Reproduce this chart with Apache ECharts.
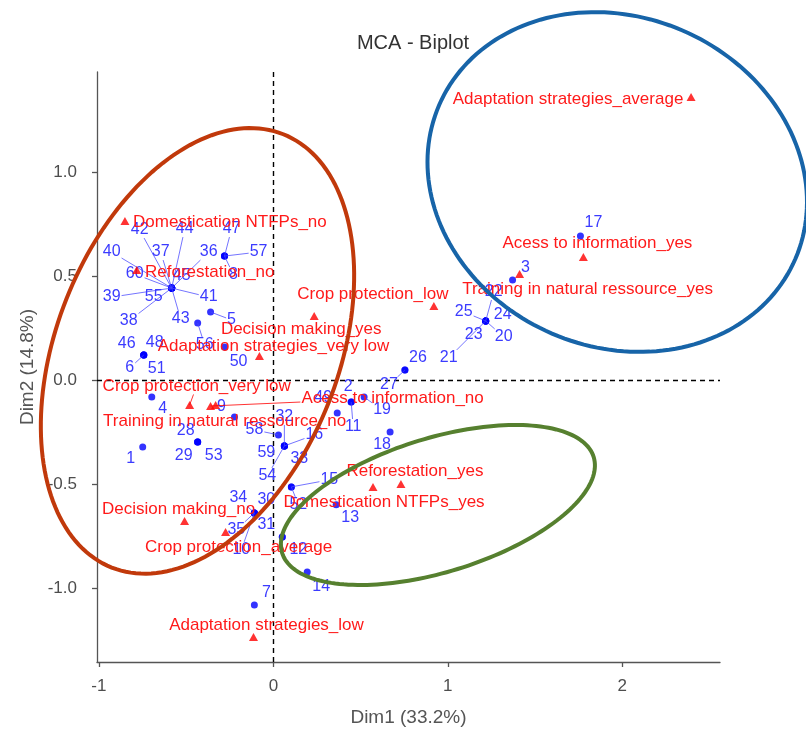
<!DOCTYPE html>
<html><head><meta charset="utf-8">
<script src="https://cdn.jsdelivr.net/npm/echarts@6/dist/echarts.min.js"></script>
<style>html,body{margin:0;padding:0;background:#fff}#c{width:806px;height:735px}</style>
</head><body><div id="c"></div>
<script>
// ---------- DATA ----------
const indNames = Array.from({length: 60}, (_, i) => String(i + 1));
const indX = [-0.749, 0.446, 1.371, -0.697, -0.360, -0.743, -0.109, -0.280, -0.223, -0.109,
  0.446, 0.051, 0.360, 0.194, 0.103, 0.063, 1.760, 0.669, 0.520, 1.217,
  1.217, 1.217, 1.217, 1.217, 1.217, 0.754, 0.754, -0.434, -0.434, -0.109,
  0.051, 0.063, 0.063, -0.109, -0.109, -0.583, -0.583, -0.583, -0.583, -0.583,
  -0.583, -0.583, -0.583, -0.583, -0.583, -0.743, -0.280, -0.743, 0.366, -0.280,
  -0.743, 0.103, -0.434, 0.063, -0.583, -0.434, -0.280, 0.029, 0.063, -0.583];
const indY = [-0.322, -0.106, 0.481, -0.082, 0.327, 0.120, -1.082, 0.596, -0.178, -0.639,
  -0.106, -0.755, -0.600, -0.923, -0.514, -0.317, 0.692, -0.250, -0.082, 0.284,
  0.284, 0.284, 0.284, 0.284, 0.284, 0.048, 0.048, -0.298, -0.298, -0.639,
  -0.755, -0.317, -0.317, -0.639, -0.639, 0.442, 0.442, 0.442, 0.442, 0.442,
  0.442, 0.442, 0.442, 0.442, 0.442, 0.120, 0.596, 0.120, -0.159, 0.159,
  0.120, -0.514, -0.298, -0.317, 0.442, 0.274, 0.596, -0.264, -0.317, 0.442];

const varNames = ["Adaptation strategies_average", "Acess to information_yes", "Training in natural ressource_yes",
  "Crop protection_low", "Decision making_yes", "Adaptation strategies_very low", "Reforestation_no",
  "Domestication NTFPs_no", "Crop protection_very low", "Acess to information_no",
  "Training in natural ressource_no", "Decision making_no", "Crop protection_average",
  "Adaptation strategies_low", "Reforestation_yes", "Domestication NTFPs_yes"];
const varX = [2.394, 1.777, 1.411, 0.920, 0.234, -0.080, -0.783, -0.851, -0.480, -0.360, -0.331, -0.509, -0.274, -0.114, 0.731, 0.571];
const varY = [1.361, 0.591, 0.510, 0.356, 0.308, 0.115, 0.529, 0.764, -0.120, -0.125, -0.120, -0.678, -0.731, -1.236, -0.500, -0.514];

const xTicks = [-1, 0, 1, 2];
const yTicks = [-1.0, -0.5, 0.0, 0.5, 1.0];

// ---------- LABEL PLACEMENT (pixel offsets, repel-like) ----------
const indLabelOffset = [[-12,12],[-3,-15],[13,-12],[11,12],[21,8],[-14,13],[12,-12],[9,19],[-13,-10],[-13,37],
  [2,25],[16,13],[14,13],[14,15],[38,-7],[30,-11],[13,-13],[-8,13],[18,13],[18,16],
  [-37,37],[8,-29],[-12,14],[17,-6],[-22,-9],[13,-12],[-16,15],[-12,-11],[-14,14],[12,-13],
  [-16,-12],[0,-29],[15,13],[-16,-15],[-18,17],[37,-36],[-11,-36],[-43,33],[-60,9],[-60,-36],
  [37,9],[-32,-58],[9,31],[13,-59],[10,-12],[-17,-11],[7,-27],[11,-12],[-14,-15],[14,15],
  [13,14],[7,18],[16,14],[-17,30],[-18,9],[7,22],[34,-4],[-24,-5],[-18,7],[-37,-14]];
const varLabelOffset = [[-123,2],[14,-14],[68,15],[-61,-12],[-13,13],[14,-10],[73,2],[105,1],[7,-19],[182,-8],
  [9,16],[-6,-12],[13,15],[13,-12],[14,-13],[11,15]];

// hand-drawn annotation ellipses: centre in data units, semi-axes in px, rotation deg
const ellipses = [
  {c: [-0.435, 0.140], a: 233, b: 141, rot: -68.4, color: '#c1390b'},
  {c: [1.971, 0.952], a: 194, b: 165, rot: 23.3, color: '#1764a8'},
  {c: [0.943, -0.601], a: 163, b: 67, rot: -17.1, color: '#56802f'}
];

// ---------- RENDER ----------
const LABEL_FONT = '"Liberation Sans", Arial, sans-serif';
const measCtx = document.createElement('canvas').getContext('2d');
function textW(t, size) { measCtx.font = size + 'px ' + LABEL_FONT; return measCtx.measureText(t).width; }

function labelSeries(names, xs, ys, offs, color, lineColor, size, z) {
  return {
    type: 'custom', coordinateSystem: 'cartesian2d', z: z, silent: true, clip: false,
    encode: {x: 0, y: 1},
    data: names.map((n, i) => [xs[i], ys[i], i]),
    renderItem: function (params, api) {
      const i = api.value(2);
      const p = api.coord([api.value(0), api.value(1)]);
      const dx = offs[i][0], dy = offs[i][1];
      const cx = p[0] + dx, cy = p[1] + dy;
      const hw = textW(names[i], size) / 2 + 1, hh = size * 0.5;
      const gx = Math.max(Math.abs(dx) - hw, 0), gy = Math.max(Math.abs(dy) - hh, 0);
      const children = [];
      if (Math.hypot(gx, gy) > 9) {
        const t = Math.min(hw / Math.max(Math.abs(dx), 1e-6), hh / Math.max(Math.abs(dy), 1e-6));
        children.push({type: 'line', shape: {x1: p[0], y1: p[1], x2: cx - dx * t, y2: cy - dy * t},
          style: {stroke: lineColor, lineWidth: 1}});
      }
      children.push({type: 'text', style: {text: names[i], x: cx, y: cy, align: 'center', verticalAlign: 'middle',
        fill: color, font: size + 'px ' + LABEL_FONT}});
      return {type: 'group', children: children};
    }
  };
}

const chart = echarts.init(document.getElementById('c'), null, {renderer: 'canvas'});
const axisFont = LABEL_FONT;
chart.setOption({
  animation: false,
  backgroundColor: '#fff',
  title: {text: 'MCA - Biplot', left: 408, top: 28, textAlign: 'center',
    textStyle: {fontSize: 20, fontWeight: 'normal', color: '#333', fontFamily: LABEL_FONT}},
  grid: {left: 97, right: 86, top: 72, bottom: 73, containLabel: false},
  xAxis: {
    type: 'value', min: -1.011, max: 2.56,
    name: 'Dim1 (33.2%)', nameLocation: 'middle', nameGap: 46,
    nameTextStyle: {fontSize: 19, color: '#555', fontFamily: axisFont},
    axisLine: {show: true, onZero: false, lineStyle: {color: '#555', width: 1.3}},
    axisTick: {show: true, length: 5, customValues: xTicks, lineStyle: {color: '#555', width: 1.3}},
    axisLabel: {customValues: xTicks, margin: 16, color: '#4d4d4d', fontSize: 17, fontFamily: axisFont,
      formatter: v => String(v)},
    splitLine: {show: false}
  },
  yAxis: {
    type: 'value', min: -1.356, max: 1.481,
    name: 'Dim2 (14.8%)', nameLocation: 'middle', nameGap: 60, nameRotate: 90,
    nameTextStyle: {fontSize: 19, color: '#555', fontFamily: axisFont},
    axisLine: {show: true, onZero: false, lineStyle: {color: '#555', width: 1.3}},
    axisTick: {show: true, length: 5, customValues: yTicks, lineStyle: {color: '#555', width: 1.3}},
    axisLabel: {customValues: yTicks, margin: 20, color: '#4d4d4d', fontSize: 17, fontFamily: axisFont,
      formatter: v => v.toFixed(1)},
    splitLine: {show: false}
  },
  series: [
    {
      type: 'scatter', z: 3, symbol: 'circle', symbolSize: 7, silent: true,
      itemStyle: {color: '#0000ff'},
      data: indX.map((x, i) => [x, indY[i]]),
      markLine: {
        silent: true, symbol: 'none', label: {show: false}, z: 1,
        lineStyle: {color: '#000', type: [5, 4], width: 1.4},
        data: [{xAxis: 0}, {yAxis: 0}]
      }
    },
    labelSeries(indNames, indX, indY, indLabelOffset, '#3b3bff', 'rgba(70,70,255,0.75)', 16, 4),
    {
      type: 'scatter', z: 5, symbol: 'triangle', symbolSize: [9, 8], silent: true,
      itemStyle: {color: '#ff0000'},
      data: varX.map((x, i) => [x, varY[i]])
    },
    labelSeries(varNames, varX, varY, varLabelOffset, '#ff1a1a', 'rgba(255,0,0,0.8)', 17, 6),
    {
      type: 'custom', coordinateSystem: 'cartesian2d', z: 10, silent: true, clip: false,
      encode: {x: 0, y: 1},
      data: ellipses.map((e, i) => [e.c[0], e.c[1], i]),
      renderItem: function (params, api) {
        const e = ellipses[api.value(2)];
        const c = api.coord([api.value(0), api.value(1)]);
        const th = e.rot * Math.PI / 180, ct = Math.cos(th), st = Math.sin(th);
        const pts = [];
        for (let k = 0; k < 180; k++) {
          const t = k / 180 * Math.PI * 2;
          const u = e.a * Math.cos(t), v = e.b * Math.sin(t);
          pts.push([c[0] + u * ct - v * st, c[1] + u * st + v * ct]);
        }
        return {type: 'polygon', shape: {points: pts},
          style: {fill: 'none', stroke: e.color, lineWidth: 4}};
      }
    }
  ]
});
</script></body></html>
